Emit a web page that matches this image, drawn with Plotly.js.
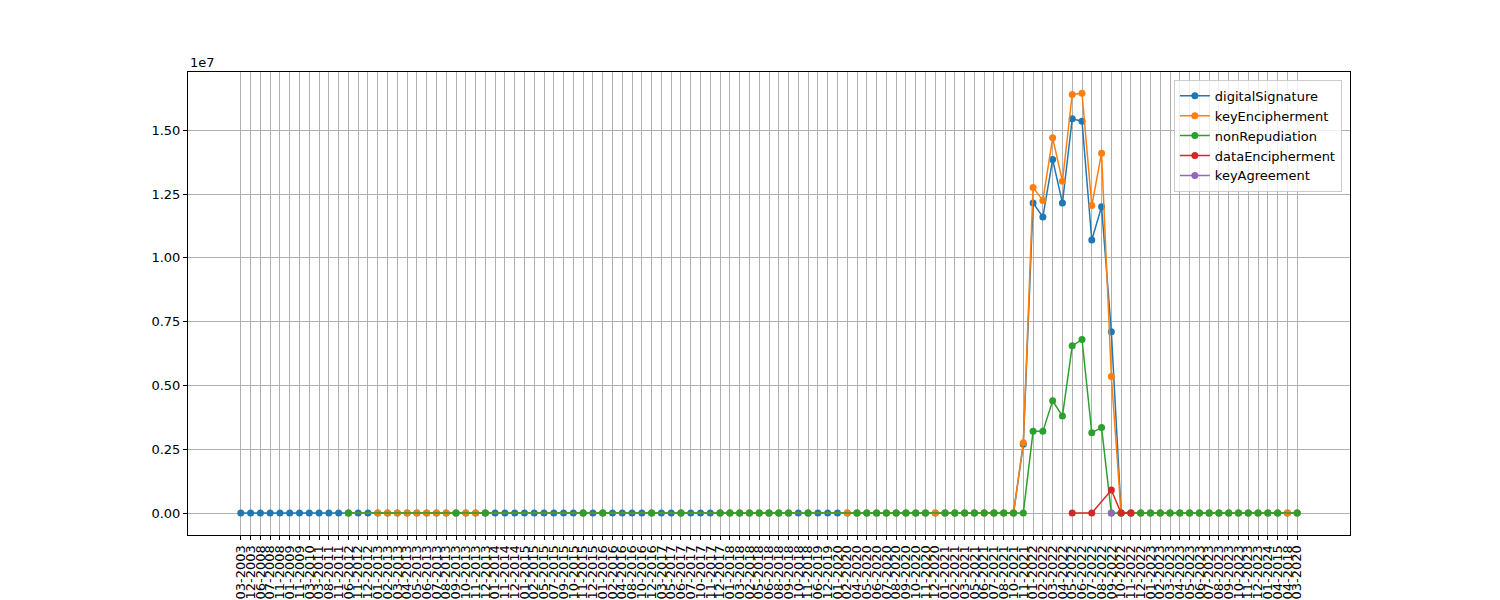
<!DOCTYPE html>
<html>
<head>
<meta charset="utf-8">
<script src="https://cdn.plot.ly/plotly-3.0.1.min.js"></script>
<style>body{margin:0;background:#fff}#chart{width:1500px;height:600px}</style>
</head>
<body>
<div id="chart"></div>
<script>
var labels = [
  "03-2003","12-2003","06-2008","07-2008","11-2008","01-2009","11-2009","03-2010","03-2011","08-2011",
  "11-2011","06-2012","11-2012","12-2012","01-2013","02-2013","03-2013","04-2013","05-2013","06-2013",
  "07-2013","08-2013","09-2013","10-2013","11-2013","12-2013","01-2014","11-2014","12-2014","01-2015",
  "02-2015","05-2015","07-2015","09-2015","10-2015","11-2015","12-2015","01-2016","02-2016","04-2016",
  "08-2016","10-2016","12-2016","03-2017","05-2017","06-2017","07-2017","10-2017","11-2017","12-2017",
  "01-2018","03-2018","02-2018","05-2018","06-2018","08-2018","09-2018","10-2018","11-2018","06-2019",
  "12-2019","01-2020","02-2020","04-2020","05-2020","06-2020","07-2020","08-2020","09-2020","10-2020",
  "11-2020","12-2020","01-2021","02-2021","03-2021","05-2021","06-2021","07-2021","08-2021","10-2021",
  "11-2021","01-2022","02-2022","03-2022","04-2022","05-2022","06-2022","07-2022","08-2022","09-2022",
  "10-2022","11-2022","12-2022","01-2023","02-2023","03-2023","04-2023","05-2023","06-2023","07-2023",
  "08-2023","09-2023","10-2023","11-2023","12-2023","01-2024","04-2015","04-2018","03-2020"
];
var n = null;
var digitalSignature = [
  0,0,0,0,0,0,0,0,0,0, 0,0,0,0,0,0,0,0,0,0, 0,0,0,0,0,0,0,0,0,0, 0,0,0,0,0,0,0,0,0,0,
  0,0,0,0,0,0,0,0,0,0, 0,0,0,0,0,0,0,0,0,0, 0,0,0,0,0,0,0,0,0,0, 0,0,0,0,0,0,0,0,0,0,
  2700000,12150000,11600000,13850000,12150000,15450000,15350000,10700000,12000000,7100000,
  0,0,0,0,0,0,0,0,0,0, 0,0,0,0,0,0,0,0,0
];
var keyEncipherment = [
  n,n,n,n,n,n,n,n,n,n, n,0,n,n,0,0,0,0,0,0, 0,0,0,0,0,0,n,n,n,n, n,n,n,n,n,0,n,0,n,n,
  n,n,0,n,n,0,n,n,n,0, 0,0,0,0,0,0,0,n,0,n, n,n,0,0,0,0,0,0,0,0, 0,0,0,0,0,0,0,0,0,0,
  2750000,12750000,12250000,14700000,13000000,16400000,16450000,12050000,14100000,5350000,
  0,0,0,0,0,0,0,0,0,0, 0,0,0,0,0,0,0,0,0
];
var nonRepudiation = [
  n,n,n,n,n,n,n,n,n,n, n,0,n,n,n,n,n,n,n,n, n,n,0,n,n,0,n,n,n,n, n,n,n,n,n,0,n,0,n,n,
  n,n,0,n,n,0,n,n,n,0, 0,0,0,0,0,0,0,n,0,n, n,n,n,0,0,0,0,0,0,0, 0,n,0,0,0,0,0,0,0,0,
  0,3200000,3200000,4400000,3800000,6550000,6800000,3150000,3350000,0,
  0,0,0,0,0,0,0,0,0,0, 0,0,0,0,0,0,0,n,0
];
var dataEnciphermentIdx = [85, 87, 89, 90, 91];
var dataEncipherment = [0, 0, 900000, 0, 0];
var keyAgreementIdx = [89];
var keyAgreement = [0];
var yTicks = [0, 2500000, 5000000, 7500000, 10000000, 12500000, 15000000];
var yTickText = ["0.00","0.25","0.50","0.75","1.00","1.25","1.50"];

function tr(name, x, y, color) {
  return {type:"scatter", mode:"lines+markers", name:name, x:x, y:y, connectgaps:true,
    line:{color:color, width:1.5}, marker:{color:color, size:7}};
}
var data = [
  tr("digitalSignature", labels, digitalSignature, "#1f77b4"),
  tr("keyEncipherment", labels, keyEncipherment, "#ff7f0e"),
  tr("nonRepudiation", labels, nonRepudiation, "#2ca02c"),
  tr("dataEncipherment", dataEnciphermentIdx.map(function(i){return labels[i];}), dataEncipherment, "#d62728"),
  tr("keyAgreement", keyAgreementIdx.map(function(i){return labels[i];}), keyAgreement, "#9467bd")
];
var layout = {
  width:1500, height:600,
  font:{family:"DejaVu Sans", size:13, color:"#000"},
  paper_bgcolor:"#fff", plot_bgcolor:"#fff",
  margin:{l:188, r:150, t:72, b:65, pad:0},
  xaxis:{type:"category", categoryorder:"array", categoryarray:labels, range:[-5.4, 113.4],
    tickmode:"array", tickvals:labels, ticktext:labels,
    tickangle:-90, ticks:"outside", ticklen:4, tickcolor:"#000", showgrid:true, gridcolor:"#b0b0b0",
    showline:true, linecolor:"#000", mirror:true, zeroline:false, automargin:false, tickfont:{size:13}},
  yaxis:{range:[-860000, 17280000], tickvals:yTicks, ticktext:yTickText, ticks:"outside", ticklen:4,
    tickcolor:"#000", showgrid:true, gridcolor:"#b0b0b0", showline:true, linecolor:"#000", mirror:true,
    zeroline:false, automargin:false},
  legend:{x:0.993, y:0.983, xanchor:"right", yanchor:"top", bgcolor:"rgba(255,255,255,0.8)",
    bordercolor:"#ccc", borderwidth:1, font:{size:13}},
  annotations:[{text:"1e7", xref:"paper", yref:"paper", x:0, y:1, xanchor:"left", yanchor:"bottom",
    showarrow:false, font:{size:13}}]
};
Plotly.newPlot("chart", data, layout, {displayModeBar:false, staticPlot:true});
</script>
</body>
</html>
